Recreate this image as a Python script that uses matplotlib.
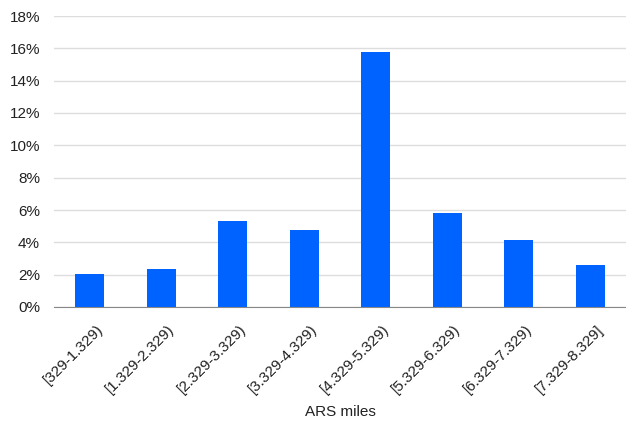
import matplotlib
matplotlib.use("Agg")
import matplotlib.pyplot as plt
from matplotlib.ticker import FuncFormatter
import matplotlib.transforms as mtransforms

plt.rcParams['font.family'] = ['Liberation Sans', 'DejaVu Sans']

bins = ["[329-1.329)", "[1.329-2.329)", "[2.329-3.329)", "[3.329-4.329)",
        "[4.329-5.329)", "[5.329-6.329)", "[6.329-7.329)", "[7.329-8.329]"]
share = [2.05, 2.35, 5.33, 4.77, 15.78, 5.80, 4.14, 2.58]
yticks = [0, 2, 4, 6, 8, 10, 12, 14, 16, 18]

fig = plt.figure(figsize=(6.26, 4.26), dpi=100)
ax = fig.add_axes([54/626, 1-307/426, 572/626, 291/426])

x = range(len(bins))
ax.bar(x, share, width=0.41, color="#0062ff", zorder=3)

ax.set_xlim(-0.5, len(bins) - 0.5)
ax.set_ylim(0, 18)
ax.set_yticks(yticks)
ax.yaxis.set_major_formatter(FuncFormatter(lambda v, p: f"{v:.0f}%"))
ax.grid(axis="y", color="#dddddd", linewidth=1, zorder=0)

ax.set_xticks(list(x))
ax.set_xticklabels(bins, rotation=45, ha="right", va="top", rotation_mode="anchor")
ax.tick_params(axis="both", length=0, labelsize=11, colors="#222222")
ax.tick_params(axis="x", pad=11)
ax.tick_params(axis="y", pad=10)

# nudge rotated labels a little to the right
shift = mtransforms.ScaledTranslation(6/100, 0, fig.dpi_scale_trans)
for lab in ax.get_xticklabels():
    lab.set_transform(lab.get_transform() + shift)

for s in ["top", "right", "left"]:
    ax.spines[s].set_visible(False)
ax.spines["bottom"].set_color("#888888")
ax.spines["bottom"].set_zorder(4)

ax.set_xlabel("ARS miles", fontsize=11, color="#222222", labelpad=6)

fig.savefig("out.png", dpi=100)
